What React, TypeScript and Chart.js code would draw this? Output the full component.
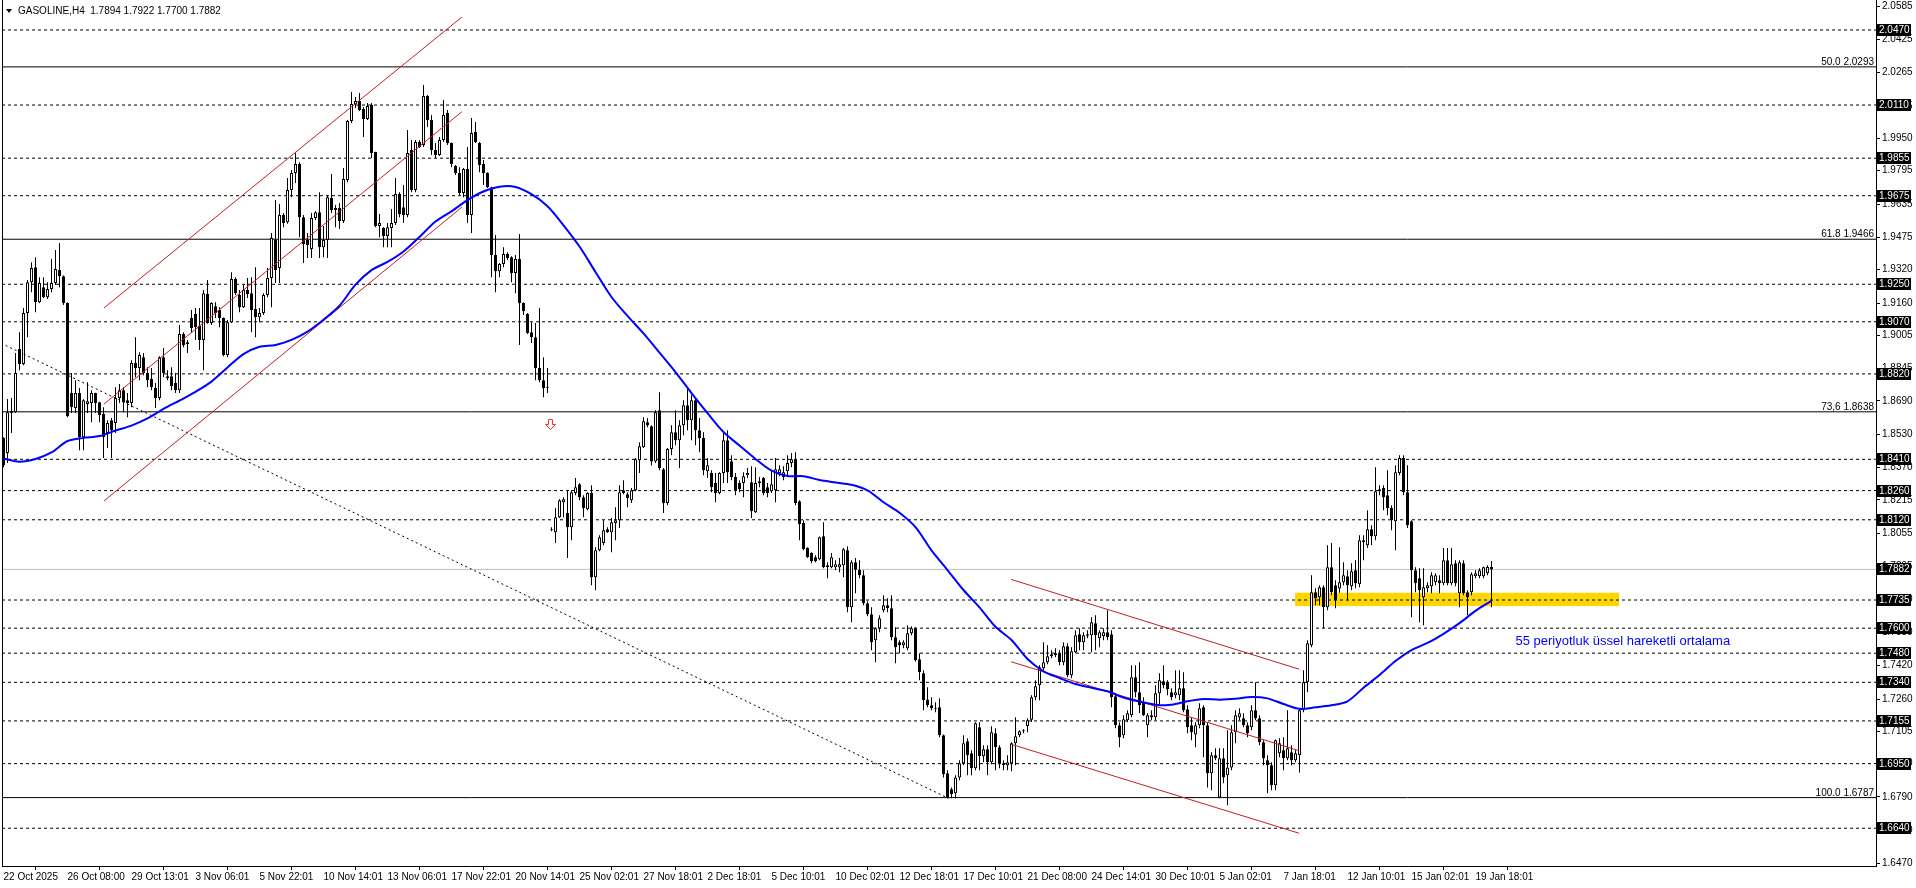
import React, { useEffect, useRef } from "react";
import { Chart, registerables } from "chart.js";

Chart.register(...registerables);

// ---------------- DATA ----------------
const SYMBOL = "GASOLINE,H4";

const opens = [
  1.8512,1.8440,1.8632,1.8636,1.8939,1.8867,1.9112,1.9260,1.9332,1.9164,
  1.9236,1.9188,1.9227,1.9256,1.9318,1.9289,1.9160,1.8728,1.8656,1.8728,
  1.8516,1.8675,1.8680,1.8728,1.8684,1.8627,1.8536,1.8598,1.8584,1.8704,
  1.8742,1.8694,1.8680,1.8872,1.8848,1.8900,1.8824,1.8795,1.8752,1.8704,
  1.8900,1.8800,1.8809,1.8776,1.8742,1.9011,1.8963,1.9088,1.9107,1.9050,
  1.8982,1.9203,1.9064,1.9145,1.9126,1.9088,1.8910,1.9068,1.9275,1.9198,
  1.9140,1.9222,1.9207,1.9131,1.9092,1.9112,1.9198,1.9280,1.9462,1.9328,
  1.9582,1.9548,1.9702,1.9784,1.9827,1.9572,1.9462,1.9419,1.9568,1.9596,
  1.9428,1.9462,1.9664,1.9606,1.9616,1.9553,1.9750,2.0033,2.0115,2.0129,
  2.0091,2.0043,2.0110,1.9884,1.9529,1.9520,1.9481,1.9520,1.9544,1.9683,
  1.9620,1.9582,1.9894,1.9702,1.9932,1.9918,2.0153,2.0038,1.9894,1.9870,
  1.9942,2.0072,1.9928,1.9817,1.9784,1.9688,1.9803,1.9582,1.9980,1.9928,
  1.9827,1.9784,1.9716,1.9390,1.9313,1.9347,1.9395,1.9380,1.9304,1.9371,
  1.9160,1.9107,1.9020,1.8996,1.8848,1.8790,1.8756,1.8070,1.8060,1.8132,
  1.8204,1.8152,1.8084,1.8248,1.8291,1.8228,1.8171,1.8248,1.7844,1.7974,
  1.8008,1.8075,1.8060,1.8104,1.8118,1.8262,1.8243,1.8214,1.8262,1.8406,
  1.8468,1.8588,1.8569,1.8400,1.8646,1.8363,1.8200,1.8459,1.8540,1.8502,
  1.8574,1.8670,1.8598,1.8694,1.8550,1.8512,1.8353,1.8344,1.8296,1.8248,
  1.8344,1.8502,1.8401,1.8325,1.8296,1.8296,1.8334,1.8300,1.8156,1.8296,
  1.8320,1.8276,1.8257,1.8262,1.8344,1.8325,1.8353,1.8392,1.8411,1.8209,
  1.8104,1.7984,1.7960,1.7940,1.7931,1.8041,1.7902,1.7892,1.7892,1.7892,
  1.7902,1.7974,1.7700,1.7916,1.7880,1.7854,1.7720,1.7667,1.7542,1.7600,
  1.7686,1.7710,1.7696,1.7556,1.7532,1.7518,1.7504,1.7576,1.7600,1.7451,
  1.7384,1.7258,1.7230,1.7216,1.7221,1.7086,1.6904,1.6827,1.6808,1.6884,
  1.6952,1.7057,1.7000,1.6928,1.7124,1.6985,1.7019,1.6956,1.7096,1.7028,
  1.6952,1.6942,1.6952,1.7048,1.7086,1.7105,1.7130,1.7160,1.7268,1.7326,
  1.7408,1.7436,1.7465,1.7470,1.7480,1.7436,1.7513,1.7374,1.7484,1.7571,
  1.7532,1.7571,1.7566,1.7624,1.7552,1.7561,1.7580,1.7571,1.7273,1.7134,
  1.7086,1.7158,1.7182,1.7364,1.7292,1.7244,1.7134,1.7182,1.7172,1.7288,
  1.7345,1.7340,1.7292,1.7278,1.7278,1.7312,1.7211,1.7134,1.7090,1.7134,
  1.7221,1.7134,1.6904,1.6990,1.6788,1.6976,1.6894,1.6932,1.7100,1.7172,
  1.7168,1.7134,1.7124,1.7206,1.7168,1.7052,1.6966,1.6942,1.6846,1.7000,
  1.7014,1.6976,1.7004,1.6966,1.6990,1.7206,1.7340,1.7518,1.7772,1.7748,
  1.7796,1.7700,1.7892,1.7806,1.7790,1.7820,1.7849,1.7801,1.7878,1.7811,
  1.8022,1.7998,1.8075,1.8041,1.8257,1.8272,1.8238,1.8176,1.8113,1.8344,
  1.8416,1.8252,1.8113,1.7878,1.7840,1.7748,1.7792,1.7801,1.7820,1.7830,
  1.7816,1.7926,1.7816,1.7912,1.7768,1.7912,1.7772,1.7772,1.7849,1.7849,
  1.7849,1.7864,1.7894,
];

const highs = [
  1.8516,1.8699,1.8704,1.8920,1.9020,1.9136,1.9270,1.9356,1.9380,1.9284,
  1.9284,1.9260,1.9371,1.9414,1.9448,1.9292,1.9164,1.8824,1.8790,1.8752,
  1.8698,1.8780,1.8742,1.8730,1.8686,1.8660,1.8598,1.8608,1.8756,1.8771,
  1.8756,1.8728,1.8886,1.8996,1.8924,1.8920,1.8852,1.8848,1.8776,1.8904,
  1.8944,1.8838,1.8852,1.8824,1.9054,1.9020,1.8982,1.9126,1.9136,1.9136,
  1.9222,1.9270,1.9164,1.9164,1.9140,1.9090,1.9078,1.9308,1.9284,1.9222,
  1.9246,1.9280,1.9284,1.9332,1.9136,1.9207,1.9328,1.9496,1.9654,1.9635,
  1.9592,1.9760,1.9798,1.9880,1.9836,1.9582,1.9496,1.9592,1.9600,1.9692,
  1.9529,1.9678,1.9779,1.9630,1.9640,1.9808,2.0038,2.0172,2.0148,2.0168,
  2.0100,2.0120,2.0120,1.9886,1.9587,1.9524,1.9544,1.9611,1.9760,1.9692,
  1.9726,1.9990,1.9942,1.9942,1.9942,2.0206,2.0158,2.0062,1.9928,1.9956,
  2.0134,2.0086,1.9930,1.9822,1.9812,1.9808,1.9908,2.0048,2.0028,1.9932,
  1.9846,1.9788,1.9718,1.9486,1.9352,1.9428,1.9404,1.9385,1.9390,1.9491,
  1.9164,1.9112,1.9068,1.9064,1.9136,1.8900,1.8848,1.8084,1.8176,1.8218,
  1.8228,1.8262,1.8262,1.8320,1.8296,1.8238,1.8252,1.8286,1.7988,1.8046,
  1.8118,1.8084,1.8128,1.8180,1.8286,1.8310,1.8252,1.8272,1.8416,1.8492,
  1.8612,1.8608,1.8574,1.8646,1.8732,1.8368,1.8464,1.8574,1.8646,1.8598,
  1.8694,1.8747,1.8718,1.8704,1.8608,1.8540,1.8416,1.8358,1.8344,1.8348,
  1.8540,1.8550,1.8430,1.8344,1.8310,1.8348,1.8368,1.8377,1.8372,1.8325,
  1.8325,1.8296,1.8358,1.8416,1.8382,1.8377,1.8430,1.8440,1.8444,1.8214,
  1.8118,1.7988,1.7964,1.7950,1.8040,1.8108,1.7916,1.7960,1.7926,1.7936,
  1.7984,1.7993,1.7926,1.7936,1.7926,1.7878,1.7729,1.7700,1.7604,1.7662,
  1.7758,1.7744,1.7758,1.7604,1.7542,1.7542,1.7614,1.7609,1.7604,1.7480,
  1.7398,1.7316,1.7268,1.7244,1.7264,1.7090,1.6918,1.6836,1.6894,1.6966,
  1.7086,1.7072,1.7014,1.7148,1.7148,1.7038,1.7038,1.7129,1.7120,1.7038,
  1.6966,1.6990,1.7052,1.7172,1.7110,1.7115,1.7168,1.7278,1.7350,1.7422,
  1.7532,1.7518,1.7494,1.7504,1.7494,1.7532,1.7528,1.7508,1.7590,1.7600,
  1.7580,1.7590,1.7652,1.7662,1.7590,1.7600,1.7686,1.7590,1.7288,1.7148,
  1.7182,1.7206,1.7422,1.7422,1.7436,1.7268,1.7192,1.7206,1.7326,1.7384,
  1.7422,1.7350,1.7312,1.7398,1.7398,1.7388,1.7230,1.7172,1.7148,1.7240,
  1.7230,1.7148,1.7004,1.7024,1.7024,1.7024,1.7110,1.7134,1.7206,1.7216,
  1.7192,1.7148,1.7230,1.7340,1.7182,1.7062,1.6990,1.6956,1.7066,1.7072,
  1.7076,1.7206,1.7038,1.7014,1.7216,1.7398,1.7542,1.7854,1.7792,1.7806,
  1.7806,1.7998,1.8008,1.7830,1.7988,1.7916,1.7878,1.7912,1.7926,1.8046,
  1.8046,1.8166,1.8094,1.8372,1.8286,1.8286,1.8358,1.8190,1.8382,1.8430,
  1.8430,1.8382,1.8118,1.7892,1.7888,1.7888,1.7820,1.7868,1.7864,1.7854,
  1.7984,1.7984,1.7984,1.7926,1.7926,1.7926,1.7782,1.7868,1.7878,1.7888,
  1.7896,1.7902,1.7922,
];

const lows = [
  1.8372,1.8392,1.8536,1.8632,1.8838,1.8862,1.8996,1.9212,1.9116,1.9160,
  1.9184,1.9179,1.9212,1.9246,1.9236,1.9150,1.8612,1.8632,1.8632,1.8454,
  1.8454,1.8632,1.8588,1.8632,1.8588,1.8416,1.8464,1.8416,1.8536,1.8680,
  1.8636,1.8612,1.8660,1.8804,1.8790,1.8814,1.8756,1.8742,1.8656,1.8694,
  1.8804,1.8790,1.8742,1.8728,1.8728,1.8948,1.8920,1.9020,1.8982,1.8934,
  1.8838,1.9060,1.9054,1.9088,1.9044,1.8905,1.8900,1.9064,1.9198,1.9116,
  1.9136,1.9184,1.9020,1.8996,1.9068,1.9102,1.9188,1.9140,1.9256,1.9256,
  1.9524,1.9540,1.9668,1.9736,1.9476,1.9352,1.9376,1.9376,1.9558,1.9376,
  1.9380,1.9376,1.9592,1.9524,1.9515,1.9544,1.9740,2.0024,2.0096,2.0081,
  1.9956,2.0038,1.9856,1.9524,1.9476,1.9428,1.9428,1.9428,1.9534,1.9572,
  1.9544,1.9572,1.9692,1.9692,1.9904,1.9908,2.0004,1.9870,1.9856,1.9865,
  1.9932,1.9918,1.9812,1.9774,1.9678,1.9668,1.9544,1.9496,1.9928,1.9788,
  1.9726,1.9712,1.9284,1.9212,1.9284,1.9332,1.9366,1.9260,1.9207,1.8958,
  1.9102,1.9011,1.8968,1.8790,1.8780,1.8708,1.8728,1.8065,1.8008,1.8128,
  1.8132,1.7936,1.8022,1.8238,1.8214,1.8132,1.8166,1.7806,1.7782,1.7969,
  1.7998,1.8056,1.7964,1.8022,1.8080,1.8243,1.8180,1.8200,1.8257,1.8344,
  1.8464,1.8564,1.8380,1.8392,1.8358,1.8152,1.8190,1.8430,1.8478,1.8368,
  1.8526,1.8550,1.8502,1.8478,1.8444,1.8334,1.8320,1.8252,1.8204,1.8243,
  1.8296,1.8296,1.8310,1.8238,1.8252,1.8228,1.8320,1.8128,1.8152,1.8276,
  1.8238,1.8228,1.8248,1.8204,1.8329,1.8310,1.8325,1.8372,1.8190,1.8022,
  1.7974,1.7936,1.7912,1.7916,1.7926,1.7888,1.7840,1.7888,1.7878,1.7868,
  1.7844,1.7676,1.7628,1.7768,1.7840,1.7710,1.7657,1.7494,1.7436,1.7580,
  1.7676,1.7676,1.7542,1.7432,1.7480,1.7504,1.7494,1.7566,1.7440,1.7350,
  1.7206,1.7220,1.7206,1.7196,1.7076,1.6884,1.6784,1.6784,1.6784,1.6870,
  1.6942,1.6894,1.6894,1.6918,1.6918,1.6956,1.6894,1.6947,1.6918,1.6928,
  1.6918,1.6918,1.6913,1.6942,1.7078,1.7096,1.7100,1.7150,1.7254,1.7254,
  1.7398,1.7427,1.7456,1.7460,1.7422,1.7422,1.7364,1.7360,1.7480,1.7494,
  1.7494,1.7552,1.7484,1.7494,1.7508,1.7542,1.7542,1.7220,1.7120,1.7028,
  1.7072,1.7148,1.7172,1.7268,1.7192,1.7178,1.7076,1.7158,1.7158,1.7230,
  1.7312,1.7278,1.7254,1.7264,1.7254,1.7196,1.7096,1.7062,1.7028,1.7120,
  1.6980,1.6836,1.6822,1.6966,1.6784,1.6856,1.6750,1.6918,1.7048,1.7158,
  1.7124,1.7076,1.7110,1.7158,1.7038,1.6942,1.6808,1.6822,1.6822,1.6980,
  1.6918,1.6966,1.6942,1.6956,1.6908,1.7196,1.7292,1.7508,1.7710,1.7710,
  1.7600,1.7686,1.7758,1.7696,1.7770,1.7806,1.7734,1.7782,1.7792,1.7796,
  1.7926,1.7984,1.7998,1.8022,1.8238,1.8166,1.8142,1.8070,1.7974,1.8334,
  1.8238,1.8080,1.7652,1.7772,1.7628,1.7614,1.7772,1.7768,1.7806,1.7768,
  1.7806,1.7806,1.7806,1.7801,1.7700,1.7758,1.7662,1.7758,1.7840,1.7840,
  1.7840,1.7854,1.7700,
];

const closes = [
  1.8382,1.8636,1.8641,1.8824,1.8867,1.9112,1.9260,1.9328,1.9164,1.9256,
  1.9188,1.9227,1.9256,1.9323,1.9289,1.9160,1.8617,1.8660,1.8728,1.8516,
  1.8694,1.8689,1.8728,1.8680,1.8622,1.8516,1.8584,1.8550,1.8704,1.8742,
  1.8684,1.8680,1.8872,1.8848,1.8910,1.8824,1.8790,1.8756,1.8704,1.8900,
  1.8824,1.8809,1.8761,1.8742,1.9011,1.8958,1.8972,1.9040,1.9044,1.8982,
  1.9207,1.9064,1.9160,1.9112,1.9088,1.8910,1.9068,1.9275,1.9207,1.9140,
  1.9222,1.9203,1.9126,1.9092,1.9112,1.9198,1.9280,1.9472,1.9318,1.9582,
  1.9544,1.9702,1.9784,1.9827,1.9572,1.9443,1.9438,1.9568,1.9596,1.9428,
  1.9462,1.9668,1.9606,1.9616,1.9553,1.9755,2.0033,2.0115,2.0129,2.0086,
  2.0043,2.0105,1.9880,1.9529,1.9544,1.9481,1.9524,1.9544,1.9683,1.9587,
  1.9582,1.9880,1.9702,1.9932,1.9908,2.0153,2.0038,1.9894,1.9870,1.9942,
  2.0062,1.9928,1.9827,1.9784,1.9688,1.9803,1.9582,1.9976,1.9932,1.9822,
  1.9784,1.9716,1.9390,1.9313,1.9347,1.9395,1.9376,1.9304,1.9371,1.9160,
  1.9121,1.9016,1.8996,1.8848,1.8790,1.8752,1.8754,1.8075,1.8132,1.8214,
  1.8219,1.8084,1.8252,1.8276,1.8228,1.8176,1.8248,1.7844,1.7974,1.8036,
  1.8070,1.8060,1.8108,1.8118,1.8252,1.8248,1.8224,1.8262,1.8411,1.8473,
  1.8593,1.8574,1.8400,1.8636,1.8368,1.8200,1.8459,1.8540,1.8502,1.8574,
  1.8670,1.8598,1.8694,1.8550,1.8512,1.8358,1.8382,1.8276,1.8248,1.8344,
  1.8502,1.8348,1.8325,1.8262,1.8267,1.8329,1.8344,1.8161,1.8296,1.8305,
  1.8248,1.8248,1.8291,1.8363,1.8363,1.8348,1.8392,1.8411,1.8200,1.8099,
  1.7979,1.7940,1.7921,1.7921,1.8036,1.7892,1.7892,1.7940,1.7907,1.7907,
  1.7979,1.7700,1.7916,1.7880,1.7854,1.7720,1.7667,1.7532,1.7600,1.7648,
  1.7710,1.7696,1.7556,1.7508,1.7518,1.7532,1.7576,1.7600,1.7446,1.7388,
  1.7254,1.7230,1.7216,1.7211,1.7086,1.6899,1.6788,1.6803,1.6884,1.6952,
  1.7048,1.6990,1.6928,1.7144,1.6985,1.7019,1.6956,1.7100,1.7028,1.6952,
  1.6942,1.6956,1.7048,1.7081,1.7105,1.7106,1.7158,1.7268,1.7321,1.7412,
  1.7436,1.7465,1.7475,1.7480,1.7436,1.7513,1.7374,1.7489,1.7566,1.7532,
  1.7566,1.7564,1.7628,1.7566,1.7580,1.7580,1.7556,1.7268,1.7134,1.7076,
  1.7163,1.7192,1.7364,1.7292,1.7230,1.7182,1.7182,1.7172,1.7288,1.7350,
  1.7326,1.7307,1.7268,1.7292,1.7312,1.7206,1.7124,1.7100,1.7134,1.7216,
  1.7134,1.6904,1.6990,1.6976,1.6976,1.6884,1.6932,1.7100,1.7182,1.7192,
  1.7134,1.7096,1.7206,1.7168,1.7052,1.6976,1.6942,1.6846,1.7062,1.7048,
  1.6976,1.7024,1.6966,1.7000,1.7206,1.7340,1.7528,1.7772,1.7744,1.7796,
  1.7700,1.7892,1.7772,1.7734,1.7820,1.7854,1.7806,1.7873,1.7816,1.8022,
  1.8012,1.8075,1.8041,1.8257,1.8267,1.8228,1.8176,1.8118,1.8348,1.8416,
  1.8252,1.8094,1.7878,1.7816,1.7782,1.7796,1.7806,1.7854,1.7854,1.7816,
  1.7926,1.7816,1.7907,1.7816,1.7916,1.7768,1.7748,1.7859,1.7864,1.7878,
  1.7892,1.7894,1.7882,
];

// 55-period EMA, one value every 4 bars (bars 0, 4, 8, ... 372)
const emaStep = 4;
const emaValues = [
  1.8414,1.8399,1.8412,1.8443,1.8498,1.8513,1.8522,1.8548,1.8572,1.8606,
  1.8652,1.8692,1.8734,1.8783,1.8851,1.8915,1.8950,1.8959,1.8983,1.9023,
  1.9080,1.9147,1.9248,1.9318,1.9357,1.9407,1.9477,1.9551,1.9600,1.9654,
  1.9695,1.9718,1.9717,1.9682,1.9624,1.9533,1.9431,1.9309,1.9189,1.9098,
  1.9014,1.8922,1.8829,1.8728,1.8632,1.8541,1.8476,1.8412,1.8356,1.8330,
  1.8329,1.8311,1.8299,1.8288,1.8261,1.8204,1.8154,1.8085,1.7973,1.7879,
  1.7783,1.7700,1.7607,1.7543,1.7452,1.7393,1.7361,1.7332,1.7314,1.7297,
  1.7267,1.7248,1.7233,1.7232,1.7249,1.7260,1.7257,1.7261,1.7270,1.7263,
  1.7236,1.7213,1.7220,1.7230,1.7249,1.7314,1.7375,1.7442,1.7495,1.7529,
  1.7573,1.7624,1.7683,1.7731,
];

const xTickIndex = [0,16,32,48,64,80,96,112,128,144,160,176,192,208,224,240,256,272,288,304,320,336,352,368];
const xTickLabels = [
  "22 Oct 2025","26 Oct 08:00","29 Oct 13:01","3 Nov 06:01","5 Nov 22:01","10 Nov 14:01",
  "13 Nov 06:01","17 Nov 22:01","20 Nov 14:01","25 Nov 02:01","27 Nov 18:01","2 Dec 18:01",
  "5 Dec 10:01","10 Dec 02:01","12 Dec 18:01","17 Dec 10:01","21 Dec 08:00","24 Dec 14:01",
  "30 Dec 10:01","5 Jan 02:01","7 Jan 18:01","12 Jan 10:01","15 Jan 02:01","19 Jan 18:01",
];
const yTickValues = [
  2.0585,2.0425,2.0265,2.0105,1.9950,1.9795,1.9635,1.9475,1.9320,1.9160,1.9005,1.8845,1.8690,
  1.8530,1.8370,1.8215,1.8055,1.7895,1.7740,1.7580,1.7420,1.7260,1.7105,1.6950,1.6790,1.6630,1.6470,
];
const levelLines = [2.0470,2.0110,1.9855,1.9675,1.9250,1.9070,1.8820,1.8410,1.8260,1.8120,1.7735,1.7600,1.7480,1.7340,1.7155,1.6950,1.6640];
const currentPrice = 1.7882;
const fibLevels = [2.0293, 1.9466, 1.8638, 1.6787];
const fibTexts = ["50.0 2.0293", "61.8 1.9466", "73,6 1.8638", "100.0 1.6787"];

const ascChannelX = [25.1, 114.6];
const ascUpper = [1.9136, 2.0532];
const ascMiddle = [1.8675, 2.0078];
const ascLower = [1.821, 1.962];
const descChannelX = [251.9, 323.9];
const descUpper = [1.7834, 1.7403];
const descMiddle = [1.7439, 1.7012];
const descLower = [1.7043, 1.6616];
const trendX = [-0.6, 236.2];
const trendY = [1.8967, 1.6784];
const zoneX = [322.9, 403.9];
const zoneY = [1.777, 1.7706];
const emaNote = "55 periyotluk üssel hareketli ortalama";
const emaNoteAt = { x: 378, y: 1.7536 };
const arrowAt = { x: 136.5, y: 1.8604 };

const X_MIN = -0.375;
const X_MAX = 468.125;
const Y_MIN = 1.64588;
const Y_MAX = 2.06139;

const FONT = "'Liberation Sans', Arial, sans-serif";
const FONT_SIZE = 10;

// ---------------- helpers ----------------
const seg = (xs: number[], ys: number[]) => xs.map((x, i) => ({ x, y: ys[i] }));

const overlayPlugin = {
  id: "mtOverlay",
  beforeDatasetsDraw(chart: any) {
    const { ctx, chartArea, scales } = chart;
    const x = scales.x, y = scales.y;
    ctx.save();
    ctx.beginPath();
    ctx.rect(chartArea.left, chartArea.top, chartArea.right - chartArea.left, chartArea.bottom - chartArea.top);
    ctx.clip();
    const x1 = x.getPixelForValue(zoneX[0]);
    const x2 = x.getPixelForValue(zoneX[1]);
    const y1 = y.getPixelForValue(zoneY[0]);
    const y2 = y.getPixelForValue(zoneY[1]);
    ctx.fillStyle = "#FFD700";
    ctx.fillRect(x1, y1, x2 - x1, y2 - y1);
    ctx.restore();
  },
  afterDraw(chart: any) {
    const { ctx, chartArea, scales } = chart;
    const x = scales.x, y = scales.y;
    ctx.save();
    // left border
    ctx.strokeStyle = "#000";
    ctx.lineWidth = 1;
    ctx.beginPath();
    ctx.moveTo(chartArea.left + 0.5, chartArea.top);
    ctx.lineTo(chartArea.left + 0.5, chartArea.bottom);
    ctx.stroke();

    // title
    ctx.fillStyle = "#000";
    ctx.beginPath();
    ctx.moveTo(6, 9);
    ctx.lineTo(12, 9);
    ctx.lineTo(9, 13);
    ctx.closePath();
    ctx.fill();
    const n = closes.length - 1;
    ctx.font = `${FONT_SIZE}px ${FONT}`;
    ctx.textBaseline = "middle";
    ctx.textAlign = "left";
    ctx.fillText(
      `${SYMBOL}  ${opens[n].toFixed(4)} ${highs[n].toFixed(4)} ${lows[n].toFixed(4)} ${closes[n].toFixed(4)}`,
      18, 11
    );

    // fib labels
    ctx.textAlign = "right";
    ctx.textBaseline = "alphabetic";
    fibLevels.forEach((v, i) => {
      const py = y.getPixelForValue(v);
      ctx.fillText(fibTexts[i], chartArea.right - 2, py - 2);
    });

    // EMA note
    ctx.fillStyle = "#0000FF";
    ctx.font = `13px 'Liberation Sans', Arial, sans-serif`;
    ctx.textAlign = "left";
    ctx.textBaseline = "middle";
    ctx.fillText(emaNote, x.getPixelForValue(emaNoteAt.x), y.getPixelForValue(emaNoteAt.y));

    // hollow down arrow
    const ax = Math.round(x.getPixelForValue(arrowAt.x)) + 0.5;
    const ay = Math.round(y.getPixelForValue(arrowAt.y)) + 0.5;
    ctx.beginPath();
    ctx.moveTo(ax - 2, ay);
    ctx.lineTo(ax + 2, ay);
    ctx.lineTo(ax + 2, ay + 5);
    ctx.lineTo(ax + 5, ay + 5);
    ctx.lineTo(ax, ay + 10);
    ctx.lineTo(ax - 5, ay + 5);
    ctx.lineTo(ax - 2, ay + 5);
    ctx.closePath();
    ctx.fillStyle = "#fff";
    ctx.fill();
    ctx.strokeStyle = "#FF3030";
    ctx.stroke();

    // price boxes on the axis
    ctx.font = `${FONT_SIZE}px ${FONT}`;
    ctx.textAlign = "left";
    ctx.textBaseline = "middle";
    [...levelLines, currentPrice].forEach((v) => {
      const py = Math.round(y.getPixelForValue(v));
      ctx.fillStyle = "#000";
      ctx.fillRect(chartArea.right + 1, py - 6, 34, 12);
      ctx.fillStyle = "#fff";
      ctx.fillText(v.toFixed(4), chartArea.right + 3, py + 0.5);
    });
    ctx.restore();
  },
};

function buildConfig(): any {
  const bodyColors = opens.map((o, i) => (closes[i] >= o ? "#FFFFFF" : "#000000"));
  const hline = (v: number, color: string, dash: number[], order: number) => ({
    type: "line",
    data: seg([X_MIN, X_MAX], [v, v]),
    borderColor: color,
    borderWidth: 1,
    borderDash: dash,
    pointRadius: 0,
    order,
  });
  const redLine = (xs: number[], ys: number[]) => ({
    type: "line",
    data: seg(xs, ys),
    borderColor: "#C41E1E",
    borderWidth: 1,
    pointRadius: 0,
    order: 1,
  });

  return {
    type: "bar",
    data: {
      datasets: [
        ...levelLines.map((v) => hline(v, "#000000", [3, 3], 6)),
        ...fibLevels.map((v) => hline(v, "#000000", [], 5)),
        hline(currentPrice, "#C0C0C0", [], 4),
        {
          type: "bar",
          data: highs.map((h, i) => ({ x: i, y: [lows[i], h] })),
          backgroundColor: "#000000",
          borderWidth: 0,
          barThickness: 1,
          maxBarThickness: 1,
          grouped: false,
          inflateAmount: 0,
          order: 3,
        },
        {
          type: "bar",
          data: opens.map((o, i) => ({ x: i, y: [o, closes[i]] })),
          backgroundColor: bodyColors,
          borderColor: "#000000",
          borderWidth: 1,
          borderSkipped: false,
          barThickness: 3,
          maxBarThickness: 3,
          minBarLength: 1,
          grouped: false,
          inflateAmount: 0,
          order: 2,
        },
        redLine(ascChannelX, ascUpper),
        redLine(ascChannelX, ascMiddle),
        redLine(ascChannelX, ascLower),
        redLine(descChannelX, descUpper),
        redLine(descChannelX, descMiddle),
        redLine(descChannelX, descLower),
        {
          type: "line",
          data: seg(trendX, trendY),
          borderColor: "#000000",
          borderWidth: 1,
          borderDash: [2, 3],
          pointRadius: 0,
          order: 1,
        },
        {
          type: "line",
          data: emaValues.map((v, k) => ({ x: k * emaStep, y: v })),
          borderColor: "#0000FF",
          borderWidth: 2,
          pointRadius: 0,
          tension: 0.3,
          order: 0,
        },
      ],
    },
    options: {
      responsive: false,
      animation: false,
      events: [],
      layout: { padding: { left: 2, top: 0, right: 0, bottom: 0 } },
      plugins: { legend: { display: false }, tooltip: { enabled: false } },
      scales: {
        x: {
          type: "linear",
          min: X_MIN,
          max: X_MAX,
          offset: false,
          afterBuildTicks: (axis: any) => {
            axis.ticks = xTickIndex.map((v) => ({ value: v }));
          },
          afterFit: (axis: any) => {
            axis.height = 22;
            axis.paddingLeft = 0;
            axis.paddingRight = 0;
          },
          ticks: {
            autoSkip: false,
            maxRotation: 0,
            minRotation: 0,
            align: "start",
            padding: 1,
            color: "#000",
            font: { family: FONT, size: FONT_SIZE },
            callback: (_v: any, idx: number) => xTickLabels[idx] ?? "",
          },
          grid: { drawOnChartArea: false, drawTicks: true, tickLength: 4, color: "#000", tickColor: "#000" },
          border: { display: true, color: "#000", width: 1 },
        },
        y: {
          type: "linear",
          position: "right",
          min: Y_MIN,
          max: Y_MAX,
          afterBuildTicks: (axis: any) => {
            axis.ticks = yTickValues.map((v) => ({ value: v }));
          },
          afterFit: (axis: any) => {
            axis.width = 40;
            axis.paddingTop = 0;
            axis.paddingBottom = 0;
          },
          ticks: {
            autoSkip: false,
            padding: 2,
            color: "#000",
            font: { family: FONT, size: FONT_SIZE },
            callback: (v: any) => Number(v).toFixed(4),
          },
          grid: { drawOnChartArea: false, drawTicks: true, tickLength: 4, color: "#000", tickColor: "#000" },
          border: { display: true, color: "#000", width: 1 },
        },
      },
    },
    plugins: [overlayPlugin],
  };
}

export default function App() {
  const ref = useRef<HTMLCanvasElement | null>(null);
  useEffect(() => {
    document.body.style.margin = "0";
    document.body.style.overflow = "hidden";
    if (!ref.current) return;
    const chart = new Chart(ref.current, buildConfig());
    return () => chart.destroy();
  }, []);
  return (
    <div style={{ width: 1916, height: 888, background: "#fff" }}>
      <canvas ref={ref} width={1916} height={888} style={{ display: "block", width: "1916px", height: "888px" }} />
    </div>
  );
}
